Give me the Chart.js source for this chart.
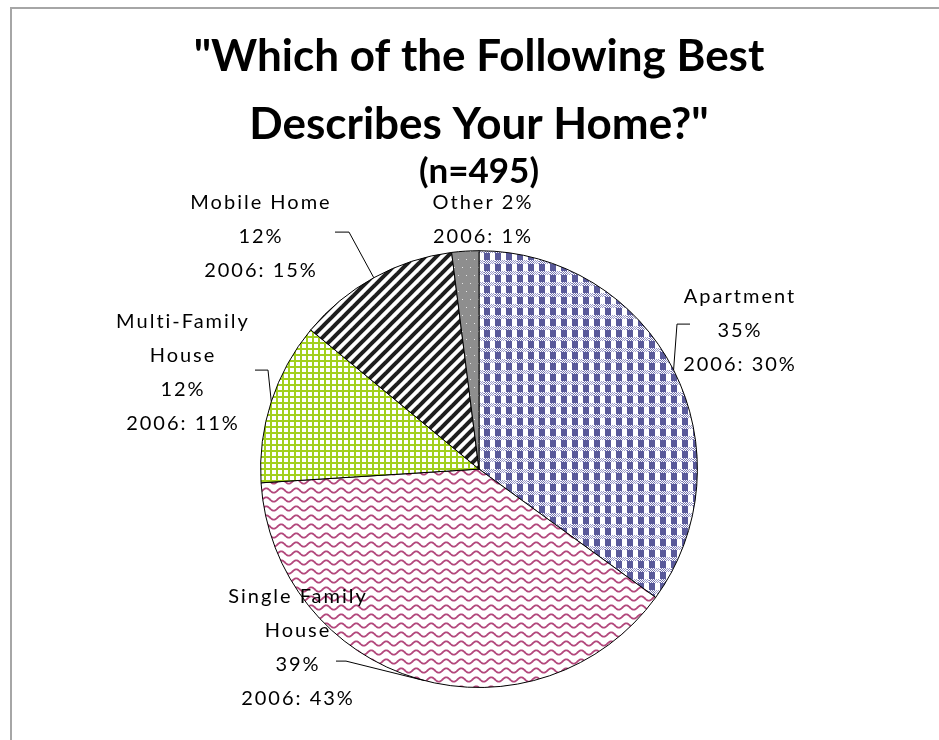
<!DOCTYPE html>
<html>
<head>
<meta charset="utf-8">
<script src="https://cdn.jsdelivr.net/npm/chart.js@4.4.0/dist/chart.umd.min.js"></script>
<style>
  html, body { margin: 0; padding: 0; background: #fff; }
  #wrap { position: relative; width: 939px; height: 740px; }
  #frame { position: absolute; left: 10px; top: 7px; right: 0; bottom: 0; border-left: 2px solid #a6a6a6; border-top: 2px solid #a6a6a6; pointer-events: none; }
</style>
</head>
<body>
<div id="wrap">
  <canvas id="homeChart" width="939" height="740"></canvas>
  <div id="frame"></div>
</div>
<script>
// Data
const categories = ['Apartment', 'Single Family House', 'Multi-Family House', 'Mobile Home', 'Other'];
const nameLines = [['Apartment'], ['Single Family', 'House'], ['Multi-Family', 'House'], ['Mobile Home'], ['Other']];
const share = [35, 39, 12, 12, 2];
const share2006 = [30, 43, 11, 15, 1];

const canvas = document.getElementById('homeChart');
const ctx = canvas.getContext('2d');

function makePattern(w, h, draw) {
    const c = document.createElement('canvas');
    c.width = w;
    c.height = h;
    const g = c.getContext('2d');
    draw(g, w, h);
    return ctx.createPattern(c, 'repeat');
}

// Apartment: blue plaid
const plaid = makePattern(11, 11, (g) => {
    g.fillStyle = '#ffffff';
    g.fillRect(0, 0, 11, 11);
    g.fillStyle = '#5a5a9a';
    g.fillRect(0, 0, 6, 7);
    for (let y = 7; y < 11; y++) {
        for (let x = 0; x < 11; x++) {
            g.fillStyle = (x < 6) ? '#7272ae' : '#9c9cc8';
            if ((x + y) % 2 === 0) g.fillRect(x, y, 1, 1);
        }
    }
});

// Single family: pink waves
const waves = makePattern(15, 9, (g) => {
    g.fillStyle = '#ffffff';
    g.fillRect(0, 0, 15, 9);
    g.strokeStyle = '#b3487c';
    g.lineWidth = 1.8;
    g.beginPath();
    for (let x = -1; x <= 16; x += 0.5) {
        const y = 4.5 + 2.2 * Math.sin(x / 15 * Math.PI * 2);
        if (x === -1) g.moveTo(x, y); else g.lineTo(x, y);
    }
    g.stroke();
});

// Multi-family: green grid
const grid = makePattern(6, 6, (g) => {
    g.fillStyle = '#ffffff';
    g.fillRect(0, 0, 6, 6);
    g.fillStyle = '#a2d01e';
    g.fillRect(0, 0, 6, 2);
    g.fillRect(0, 0, 2, 6);
});

// Mobile home: black diagonal stripes
const stripes = makePattern(11, 11, (g, s) => {
    g.fillStyle = '#ffffff';
    g.fillRect(0, 0, s, s);
    g.strokeStyle = '#1e1e1e';
    g.lineWidth = 4;
    [[0, s, s, 0], [-s / 2, s / 2, s / 2, -s / 2], [s / 2, s * 1.5, s * 1.5, s / 2]].forEach(p => {
        g.beginPath();
        g.moveTo(p[0], p[1]);
        g.lineTo(p[2], p[3]);
        g.stroke();
    });
});

// Other: grey with white dots
const dots = makePattern(8, 16, (g) => {
    g.fillStyle = '#8e8e8e';
    g.fillRect(0, 0, 8, 16);
    g.fillStyle = '#e8e8e8';
    g.fillRect(2, 3, 1, 1);
    g.fillRect(6, 11, 1, 1);
});

// Label placement relative to the pie centre
const calloutLayout = [
    { dx: 261, dy: -173, line: [211, -145, 198, -145] },
    { dx: -181, dy: 127, line: [-143, 192, -133, 192] },
    { dx: -296, dy: -148, line: [-224, -99, -211, -99] },
    { dx: -218, dy: -267, line: [-144, -237, -130, -237] },
    { dx: 4, dy: -267, inline: true }
];

const callouts = {
    id: 'callouts',
    afterDatasetsDraw(chart, args, opts) {
        const c = chart.ctx;
        const meta = chart.getDatasetMeta(0);
        c.save();
        c.font = opts.font;
        c.letterSpacing = opts.letterSpacing;
        c.textAlign = 'center';
        c.textBaseline = 'middle';
        c.fillStyle = '#000';
        c.strokeStyle = '#000';
        c.lineWidth = 1;
        meta.data.forEach((arc, i) => {
            const p = arc.getProps(['x', 'y', 'startAngle', 'endAngle', 'outerRadius'], true);
            const lay = calloutLayout[i];
            let lines;
            if (lay.inline) {
                lines = [nameLines[i].join(' ') + ' ' + share[i] + '%', '2006: ' + share2006[i] + '%'];
            } else {
                lines = nameLines[i].concat([share[i] + '%', '2006: ' + share2006[i] + '%']);
            }
            lines.forEach((t, k) => c.fillText(t, p.x + lay.dx, p.y + lay.dy + k * opts.lineGap));
            if (lay.line) {
                const mid = (p.startAngle + p.endAngle) / 2 - 0.03 * (i === 1);
                c.beginPath();
                c.moveTo(p.x + lay.line[0], p.y + lay.line[1]);
                c.lineTo(p.x + lay.line[2], p.y + lay.line[3]);
                c.lineTo(p.x + Math.cos(mid) * p.outerRadius, p.y + Math.sin(mid) * p.outerRadius);
                c.stroke();
            }
        });
        c.restore();
    }
};

new Chart(ctx, {
    type: 'pie',
    data: {
        labels: categories,
        datasets: [{
            data: share,
            backgroundColor: [plaid, waves, grid, stripes, dots],
            borderColor: '#000',
            borderWidth: 1
        }]
    },
    options: {
        responsive: false,
        animation: false,
        layout: { padding: { top: 0, left: 30, right: 11, bottom: 52 } },
        plugins: {
            legend: { display: false },
            tooltip: { enabled: false },
            title: {
                display: true,
                text: ['"Which of the Following Best', 'Describes Your Home?"'],
                color: '#000',
                font: { family: 'Lato', size: 44, weight: 'bold', lineHeight: 1.545 },
                padding: { top: 23, bottom: 0 }
            },
            subtitle: {
                display: true,
                text: '(n=495)',
                color: '#000',
                font: { family: 'Lato', size: 35, weight: 'bold', lineHeight: 0.75 },
                padding: { top: 0, bottom: 65 }
            },
            callouts: { font: '20px Lato', letterSpacing: '2px', lineGap: 34 }
        }
    },
    plugins: [callouts]
});
</script>
</body>
</html>
